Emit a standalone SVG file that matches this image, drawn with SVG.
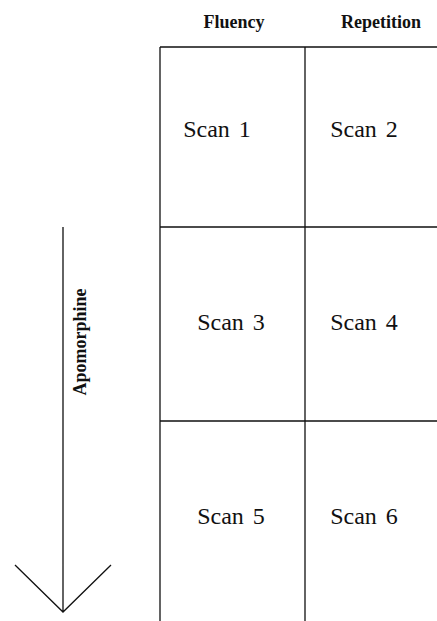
<svg xmlns="http://www.w3.org/2000/svg" width="437" height="621" viewBox="0 0 437 621">
<style>
.hdr{font-family:"Liberation Serif","DejaVu Serif",serif;font-weight:bold;font-size:18px;fill:#111;text-anchor:middle}
.scan{font-family:"Liberation Serif","DejaVu Serif",serif;font-size:24px;fill:#111;text-anchor:middle;word-spacing:3px}
.ln{stroke:#111;stroke-width:1.3;fill:none}
</style>
<rect width="437" height="621" fill="#fff"/>
<g id="grid">
<path class="ln" d="M160,47 H437 M160,227 H437 M160,421 H437 M160,47 V621 M305,47 V621"/>
</g>
<g id="header-fluency"><text class="hdr" x="234" y="28">Fluency</text></g>
<g id="header-repetition"><text class="hdr" x="381" y="28">Repetition</text></g>
<g id="scan1"><text class="scan" x="217" y="137">Scan 1</text></g>
<g id="scan2"><text class="scan" x="364" y="137">Scan 2</text></g>
<g id="scan3"><text class="scan" x="231" y="330">Scan 3</text></g>
<g id="scan4"><text class="scan" x="364" y="330">Scan 4</text></g>
<g id="scan5"><text class="scan" x="231" y="524">Scan 5</text></g>
<g id="scan6"><text class="scan" x="364" y="524">Scan 6</text></g>
<g id="connectors">
<path class="ln" d="M63,227 V612 M15,565 L63,612 L111,565"/>
</g>
<g id="label-apomorphine"><text class="hdr" transform="translate(86,342) rotate(-90)">Apomorphine</text></g>
</svg>
